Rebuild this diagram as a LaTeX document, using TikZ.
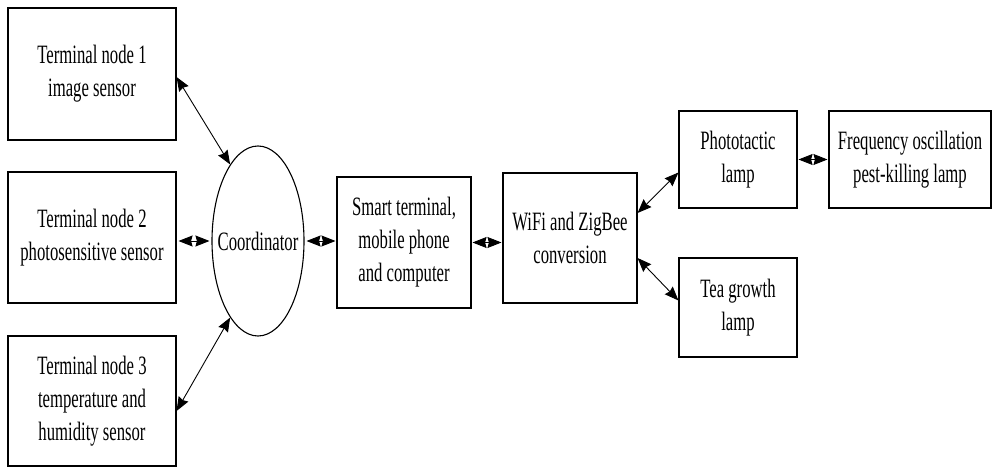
\documentclass[tikz,border=0pt]{standalone}
\usepackage{fontspec}
\setmainfont{Liberation Serif}[FakeStretch=0.63]
\usetikzlibrary{arrows.meta,shapes.geometric}
\begin{document}
\begin{tikzpicture}[x=1pt,y=-1pt,
  every node/.style={font=\fontsize{26.5}{33}\selectfont, align=center, inner sep=0pt},
  blockbox/.style={draw, line width=1.1pt, rectangle},
  tip/.tip={Stealth[length=14pt,width=11pt,inset=1.5pt]},
  link/.style={line width=0.9pt, tip-tip}]
\useasboundingbox (0,0) rectangle (993,468);
% terminal nodes
\node[blockbox, minimum width=168pt, minimum height=132pt] (t1) at (92,74) {Terminal node 1\\image sensor};
\node[blockbox, minimum width=168pt, minimum height=131pt] (t2) at (92,237.5) {Terminal node 2\\photosensitive sensor};
\node[blockbox, minimum width=168pt, minimum height=130pt] (t3) at (92,401) {Terminal node 3\\temperature and\\humidity sensor};
% coordinator: the outline is sized on its own, the label sits inside it
\node[draw, line width=1.1pt, ellipse, minimum width=92pt, minimum height=190pt] (coord) at (258,241) {};
\node (coordtext) at (coord.center) {Coordinator};
% gateway chain
\node[blockbox, minimum width=134pt, minimum height=131pt] (smart) at (404,242.5) {Smart terminal,\\mobile phone\\and computer};
\node[blockbox, minimum width=134pt, minimum height=130pt] (wifi) at (570,238) {WiFi and ZigBee\\conversion};
% lamps
\node[blockbox, minimum width=118pt, minimum height=97pt] (photo) at (738,159.5) {Phototactic\\lamp};
\node[blockbox, minimum width=162pt, minimum height=97pt] (freq) at (910,159.5) {Frequency oscillation\\pest-killing lamp};
\node[blockbox, minimum width=118pt, minimum height=99pt] (tea) at (738,307.5) {Tea growth\\lamp};
% connections
\draw[link] ([yshift=-3pt]t1.east) -- (coord.110);
\draw[link] ([xshift=2pt]coord.west -| t2.east) -- ([xshift=-2pt]coord.west);
\draw[link] ([yshift=-10pt]t3.east) -- (coord.250);
\draw[link] ([xshift=2pt]coord.east) -- ([xshift=-1pt]coord.east -| smart.west);
\draw[link] ([xshift=1pt]smart.east) -- ([xshift=-1pt]smart.east -| wifi.west);
\draw[link] ([yshift=25pt]wifi.east) -- ([yshift=-13pt]photo.west);
\draw[link] ([yshift=-20pt]wifi.east) -- ([yshift=7pt]tea.west);
\draw[link] ([xshift=1pt]photo.east) -- ([xshift=-1pt]freq.west);
\end{tikzpicture}
\end{document}
